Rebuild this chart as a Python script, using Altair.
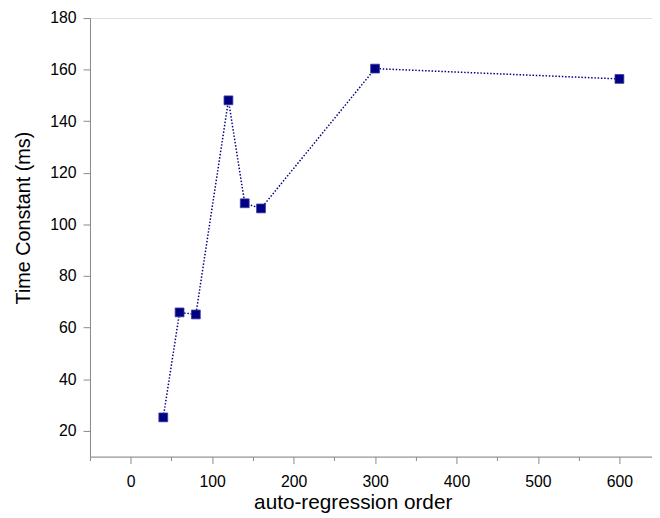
import altair as alt
import pandas as pd

order = [40, 60, 80, 120, 140, 160, 300, 600]
time_constant = [25.2, 65.9, 65.1, 148.1, 108.2, 106.2, 160.4, 156.4]

x_ticks = [-50, 0, 50, 100, 150, 200, 250, 300, 350, 400, 450, 500, 550, 600]
y_ticks = [20, 30, 40, 50, 60, 70, 80, 90, 100, 110, 120, 130, 140, 150, 160, 170, 180]

df = pd.DataFrame({"order": order, "tc": time_constant})

FONT = "Liberation Sans"
NAVY = "#000080"

x_enc = alt.X(
    "order:Q",
    scale=alt.Scale(domain=[-50, 640], nice=False, zero=False),
    axis=alt.Axis(
        title="auto-regression order",
        values=x_ticks,
        labelExpr="datum.value % 100 === 0 ? datum.label : ''",
        tickSize={"expr": "datum.value % 100 === 0 ? 7 : 4"},
        grid=False,
        labelFontSize=16,
        titleFontSize=21,
        titleFontWeight="normal",
        labelPadding=10,
        titleAlign="center",
        titleBaseline="alphabetic",
        titleX=266,
        titleY=53,
        labelFlush=False,
    ),
)
y_enc = alt.Y(
    "tc:Q",
    scale=alt.Scale(domain=[10, 180], nice=False, zero=False),
    axis=alt.Axis(
        title="Time Constant (ms)",
        values=y_ticks,
        labelExpr="datum.value % 20 === 0 ? datum.label : ''",
        tickSize={"expr": "datum.value % 20 === 0 ? 7 : 4"},
        grid=False,
        labelFontSize=16,
        titleFontSize=20,
        titleFontWeight="normal",
        labelPadding=7,
        titleAngle=-90,
        titleAlign="center",
        titleBaseline="alphabetic",
        titleX=-61,
        titleY=202,
        labelFlush=False,
    ),
)

line = alt.Chart(df).mark_line(
    color=NAVY, strokeWidth=1.5, strokeDash=[1.5, 1.8]
).encode(x=x_enc, y=y_enc)

points = alt.Chart(df).mark_point(
    shape="square", filled=True, size=80, color=NAVY, opacity=1,
    stroke="#3a3aa8", strokeWidth=0.8
).encode(x="order:Q", y="tc:Q")

chart = (
    alt.layer(line, points)
    .properties(
        width=569,
        height=444,
        autosize=alt.AutoSizeParams(type="none"),
        padding={"left": 83, "top": 7, "right": 0, "bottom": 60},
    )
    .configure_view(stroke=None)
    .configure_axis(
        domainColor="black",
        domainWidth=1.3,
        tickColor="black",
        tickWidth=1.3,
        labelColor="black",
        titleColor="black",
        labelFont=FONT,
        titleFont=FONT,
    )
    .configure(background="white")
)

chart.save("out.html", embed_options={"renderer": "svg", "actions": False})
